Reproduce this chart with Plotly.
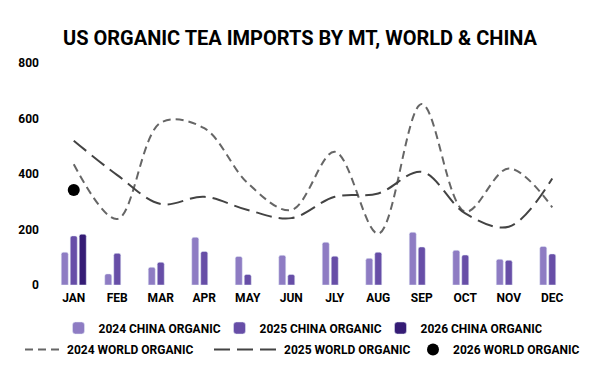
import plotly.graph_objects as go

months = ["JAN", "FEB", "MAR", "APR", "MAY", "JUN", "JLY", "AUG", "SEP", "OCT", "NOV", "DEC"]
china_2024 = [118, 40, 64, 172, 103, 107, 154, 96, 190, 125, 93, 139]
china_2025 = [177, 114, 82, 121, 38, 38, 104, 118, 137, 108, 89, 112]
china_2026 = [183, None, None, None, None, None, None, None, None, None, None, None]
world_2024 = [435, 238, 585, 565, 367, 270, 480, 185, 652, 264, 420, 280]
world_2025 = [520, 396, 292, 318, 270, 241, 318, 330, 408, 258, 210, 384]
world_2026 = [342, None, None, None, None, None, None, None, None, None, None, None]
y_ticks = [0, 200, 400, 600, 800]

FONT = "Roboto"
legfont = dict(family=FONT, size=12, color="#000000", weight="bold")

fig = go.Figure()
fig.add_bar(x=months, y=china_2024, name="2024 CHINA ORGANIC", marker_color="#8e7cc3", legend="legend")
fig.add_bar(x=months, y=china_2025, name="2025 CHINA ORGANIC", marker_color="#674ea7", legend="legend")
fig.add_bar(x=months, y=china_2026, name="2026 CHINA ORGANIC", marker_color="#351c75", legend="legend")
fig.add_scatter(x=months, y=world_2024, name="2024 WORLD ORGANIC", mode="lines",
                line=dict(color="#666666", width=2, dash="8px,5px", shape="spline"), legend="legend2")
fig.add_scatter(x=months, y=world_2025, name="2025 WORLD ORGANIC", mode="lines",
                line=dict(color="#434343", width=2, dash="16px,7px", shape="spline"), legend="legend3")
fig.add_scatter(x=months, y=world_2026, name="2026 WORLD ORGANIC", mode="markers",
                marker=dict(color="#000000", size=12), legend="legend4")

def leg(x, y, xanchor="left", **kw):
    return dict(orientation="h", xref="container", yref="container", x=x, xanchor=xanchor,
                y=y, yanchor="middle", font=legfont, bgcolor="rgba(0,0,0,0)", **kw)

row1 = 1 - 328 / 371
row2 = 1 - 349.5 / 371

fig.update_layout(
    width=600, height=371,
    margin=dict(l=52, r=26, t=63, b=86, autoexpand=False),
    paper_bgcolor="white", plot_bgcolor="white",
    font=dict(family=FONT, size=12, color="#000000"),
    title=dict(text="US ORGANIC TEA IMPORTS BY MT, WORLD &amp; CHINA",
               x=0.5, xanchor="center", y=0.897, yanchor="middle",
               font=dict(family=FONT, size=20, color="#000000", weight="bold")),
    barmode="group", bargap=0.38, bargroupgap=0.22, barcornerradius=2,
    xaxis=dict(type="category", range=[-0.5, 11.5], autorange=False,
               showgrid=False, showline=False, zeroline=False, automargin=False,
               tickfont=dict(family=FONT, size=12, color="#000000", weight="bold"),
               ticks="", ticklabelstandoff=4),
    yaxis=dict(range=[0, 800], tickvals=y_ticks, showgrid=False, showline=False, zeroline=False,
               automargin=False,
               tickfont=dict(family=FONT, size=12, color="#000000", weight="bold"),
               ticks="", ticklabelstandoff=12),
    legend=leg(0.5, row1, xanchor="center", entrywidth=116, traceorder="normal"),
    legend2=leg(20 / 600, row2, itemwidth=37),
    legend3=leg(209 / 600, row2, itemwidth=65),
    legend4=leg(413 / 600, row2),
    showlegend=True,
)

fig.write_html("out.html", post_script="document.body.style.margin='0';",
               config={"displayModeBar": False})
